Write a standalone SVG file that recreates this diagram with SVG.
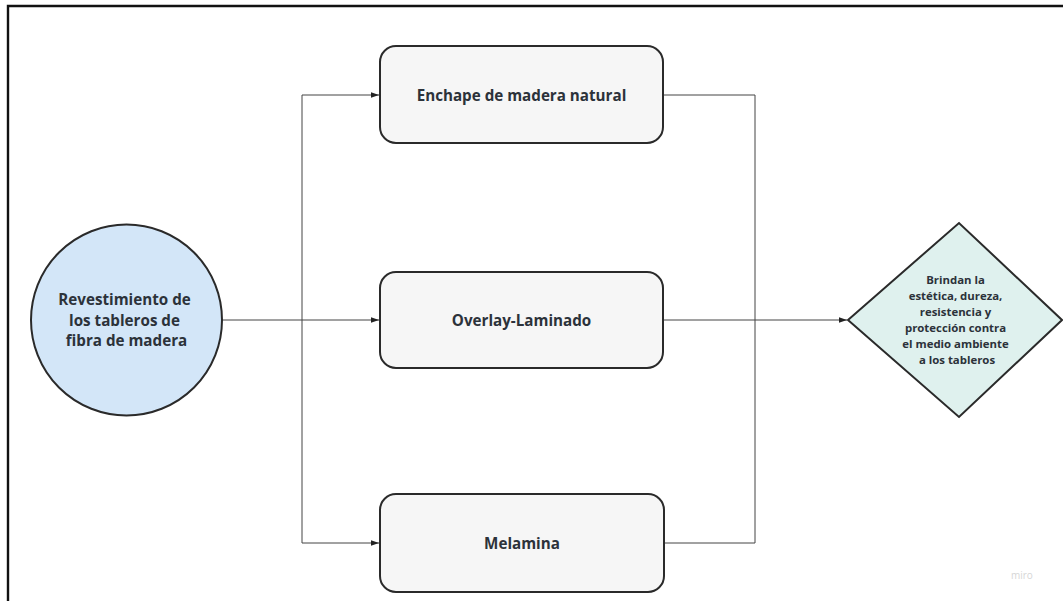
<svg xmlns="http://www.w3.org/2000/svg" width="1063" height="601" viewBox="0 0 1063 601">
  <style>
    .frame { fill: none; stroke: #111; stroke-width: 2.4; }
    .box { fill: #f6f6f6; stroke: #2a2a2a; stroke-width: 2; }
    .circle { fill: #d3e6f8; stroke: #2a2a2a; stroke-width: 2; }
    .diamond { fill: #dff1ee; stroke: #2a2a2a; stroke-width: 2; }
    .wire { fill: none; stroke: #444; stroke-width: 1; }
    .label { font-family: "Open Sans", "Noto Sans", "DejaVu Sans", sans-serif; font-weight: 700; fill: #2c323a; text-anchor: middle; }
    .mark { font-family: "Open Sans", sans-serif; font-size: 10px; fill: #d6d6d6; }
  </style>
  <defs>
    <marker id="arrow" viewBox="0 0 10 10" refX="10" refY="5" markerWidth="8" markerHeight="8" markerUnits="userSpaceOnUse" orient="auto">
      <path d="M0,1.5 L10,5 L0,8.5 Z" fill="#222"/>
    </marker>
  </defs>

  <rect width="1063" height="601" fill="#ffffff"/>
  <!-- outer frame: only top and left edges fall inside the canvas -->
  <path class="frame" d="M8,601 L8,6 L1063,6"/>

  <g id="connectors">
    <!-- split from the source circle to the three finishes -->
    <path class="wire" d="M222,320 L379,320" marker-end="url(#arrow)"/>
    <path class="wire" d="M302,95 L302,543"/>
    <path class="wire" d="M302,95 L379,95" marker-end="url(#arrow)"/>
    <path class="wire" d="M302,543 L379,543" marker-end="url(#arrow)"/>
    <!-- merge into the result diamond -->
    <path class="wire" d="M663,95 L755,95 L755,543 L663,543"/>
    <path class="wire" d="M663,320 L847,320" marker-end="url(#arrow)"/>
  </g>

  <g id="source">
    <circle class="circle" cx="126.5" cy="320" r="95.5"/>
    <text class="label" font-size="15.2">
      <tspan x="126.5" y="305">Revestimiento de</tspan>
      <tspan x="126.5" y="325.5">los tableros de</tspan>
      <tspan x="126.5" y="346">fibra de madera</tspan>
    </text>
  </g>

  <g id="enchape">
    <rect class="box" x="380" y="46" width="283" height="97" rx="16"/>
    <text class="label" font-size="15.2" x="521.5" y="100.5">Enchape de madera natural</text>
  </g>

  <g id="overlay">
    <rect class="box" x="380" y="272" width="283" height="96" rx="16"/>
    <text class="label" font-size="15.2" x="521.5" y="325.5">Overlay-Laminado</text>
  </g>

  <g id="melamina">
    <rect class="box" x="380" y="494" width="284" height="98" rx="16"/>
    <text class="label" font-size="15.2" x="522" y="548.5">Melamina</text>
  </g>

  <g id="result">
    <polygon class="diamond" points="848,320 959,223 1062,320 959,417"/>
    <text class="label" font-size="11.4">
      <tspan x="957" y="284">Brindan la</tspan>
      <tspan x="957" y="300">estética, dureza,</tspan>
      <tspan x="957" y="316">resistencia y</tspan>
      <tspan x="957" y="332">protección contra</tspan>
      <tspan x="957" y="348">el medio ambiente</tspan>
      <tspan x="957" y="364">a los tableros</tspan>
    </text>
  </g>

  <text class="mark" x="1011" y="579">miro</text>
</svg>
